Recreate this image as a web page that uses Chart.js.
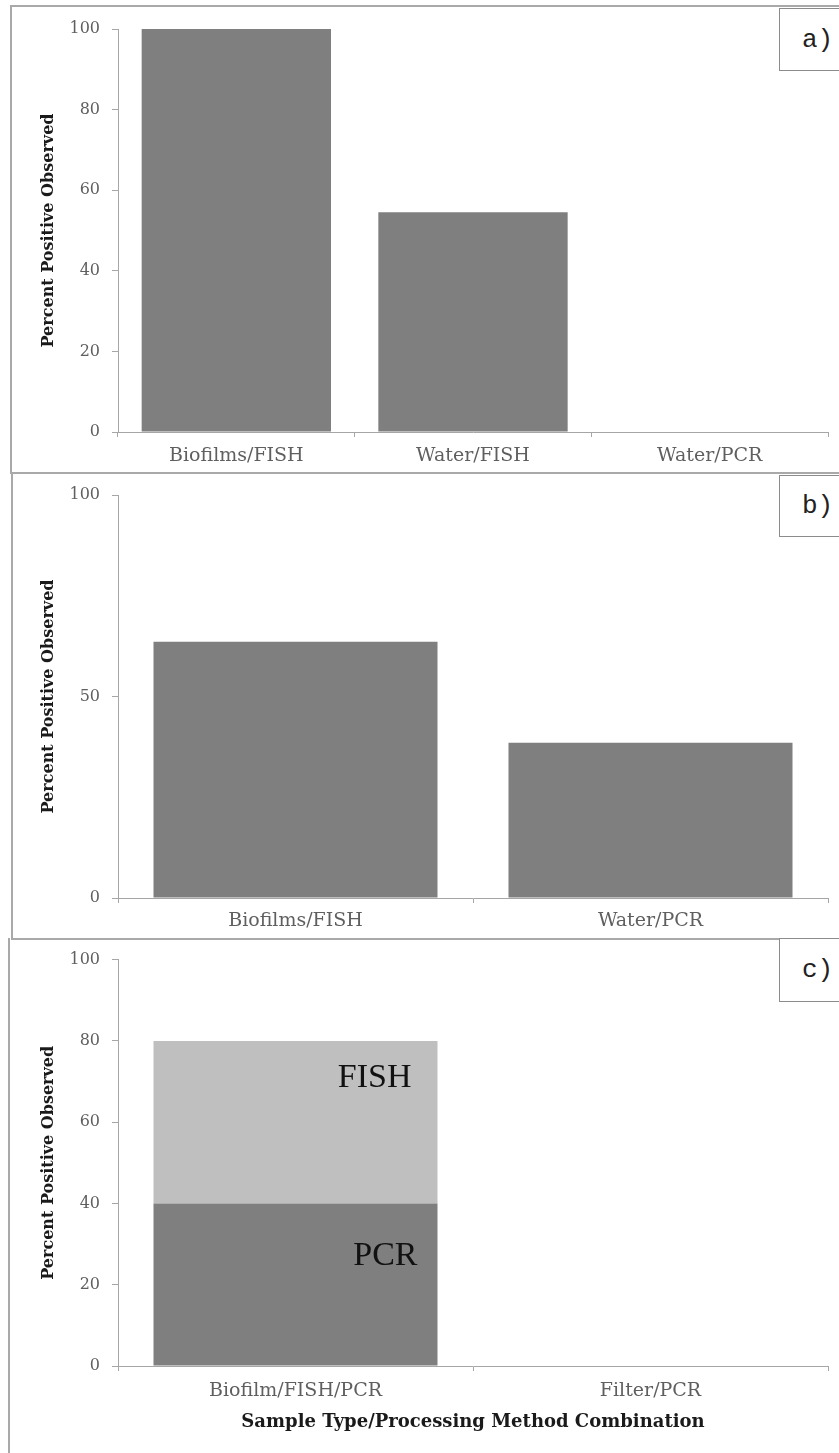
<!DOCTYPE html>
<html>
<head>
<meta charset="utf-8">
<script src="https://cdn.jsdelivr.net/npm/chart.js@4/dist/chart.umd.min.js"></script>
<style>
  html, body { margin: 0; padding: 0; background: #fff; }
  body { width: 839px; height: 1453px; position: relative; overflow: hidden; }
  .frame { position: absolute; border: 2px solid #a9a9a9; border-right: none; box-sizing: border-box; }
  canvas { position: absolute; left: 0; }
  .tag { position: absolute; left: 779px; width: 80px; background: #fff; border: 1px solid #8c8c8c;
         box-sizing: border-box; font-family: "Liberation Mono", monospace; font-size: 26px; color: #222;
         padding-left: 22px; display: flex; align-items: center; }
</style>
</head>
<body>
<div class="frame" style="left:10px; top:5px; width:840px; height:469px;"></div>
<div class="frame" style="left:11px; top:472px; width:840px; height:468px; border-top:none;"></div>
<div class="frame" style="left:8px; top:938px; width:840px; height:530px; border-top:none;"></div>

<canvas id="chartA" width="839" height="472" style="top:0px"></canvas>
<canvas id="chartB" width="839" height="466" style="top:472px"></canvas>
<canvas id="chartC" width="839" height="515" style="top:938px"></canvas>

<div class="tag" style="top:8px; height:63px;">a)</div>
<div class="tag" style="top:475px; height:62px;">b)</div>
<div class="tag" style="top:938px; height:64px;">c)</div>

<script>
// panel a
const categoriesA = ["Biofilms/FISH", "Water/FISH", "Water/PCR"];
const valuesA = [100, 54.5, 0];
const ticksA = [0, 20, 40, 60, 80, 100];

// panel b
const categoriesB = ["Biofilms/FISH", "Water/PCR"];
const valuesB = [63.6, 38.5];
const ticksB = [0, 50, 100];

// panel c (stacked)
const categoriesC = ["Biofilm/FISH/PCR", "Filter/PCR"];
const pcrC = [40, 0];
const fishC = [40, 0];
const ticksC = [0, 20, 40, 60, 80, 100];
const segmentLabelsC = ["PCR", "FISH"];

const yTitle = "Percent Positive Observed";
const xTitleC = "Sample Type/Processing Method Combination";

const serif = "DejaVu Serif";
const axisColor = "#a6a6a6";
const tickColor = "#5f5f5f";

// labels drawn inside the stacked bar of panel c
const segmentLabelPlugin = {
    id: "segmentLabels",
    afterDatasetsDraw(chart) {
        const ctx = chart.ctx;
        const insets = [20, 26];
        const drops = [53, 37];
        ctx.save();
        ctx.font = "34px 'Liberation Serif'";
        ctx.fillStyle = "#111";
        ctx.textAlign = "right";
        ctx.textBaseline = "middle";
        chart.data.datasets.forEach(function (ds, i) {
            const bar = chart.getDatasetMeta(i).data[0];
            ctx.fillText(segmentLabelsC[i], bar.x + bar.width / 2 - insets[i], bar.y + drops[i]);
        });
        ctx.restore();
    }
};

function makePanel(id, labels, datasets, ticks, o) {
    const canvas = document.getElementById(id);
    return new Chart(canvas, {
        type: "bar",
        data: { labels: labels, datasets: datasets },
        plugins: o.plugins || [],
        options: {
            responsive: false,
            animation: false,
            layout: { padding: { left: 29, right: 11, top: o.top, bottom: 0 } },
            plugins: { legend: { display: false }, tooltip: { enabled: false } },
            scales: {
                x: {
                    stacked: !!o.stacked,
                    grid: { drawOnChartArea: false, drawTicks: true, tickLength: 5, color: axisColor },
                    border: { color: axisColor },
                    ticks: { color: tickColor, padding: o.xPad, font: { family: serif, size: 19 } },
                    title: o.xTitle ? {
                        display: true, text: o.xTitle, color: "#1a1a1a",
                        font: { family: serif, size: 18, weight: "bold" },
                        padding: { top: 0, bottom: 20 }
                    } : { display: false },
                    afterFit(scale) { scale.height = o.xHeight; }
                },
                y: {
                    stacked: !!o.stacked,
                    min: 0,
                    max: 100,
                    grid: { drawOnChartArea: false, drawTicks: true, tickLength: 6, color: axisColor },
                    border: { color: axisColor },
                    ticks: { color: tickColor, padding: 12, font: { family: serif, size: 16 } },
                    afterBuildTicks(scale) { scale.ticks = ticks.map(v => ({ value: v })); },
                    title: {
                        display: true, text: yTitle, color: "#1a1a1a",
                        font: { family: serif, size: 16, weight: "bold" },
                        padding: { top: 10, bottom: 0 }
                    },
                    afterFit(scale) { scale.width = 89; }
                }
            }
        }
    });
}

makePanel("chartA", categoriesA, [{
    data: valuesA, backgroundColor: "#7f7f7f", categoryPercentage: 0.8, barPercentage: 1.0
}], ticksA, { top: 29, xHeight: 40, xPad: 8 });

makePanel("chartB", categoriesB, [{
    data: valuesB, backgroundColor: "#7f7f7f", categoryPercentage: 0.8, barPercentage: 1.0
}], ticksB, { top: 23, xHeight: 40, xPad: 7 });

makePanel("chartC", categoriesC, [
    { label: "PCR", data: pcrC, backgroundColor: "#7f7f7f", categoryPercentage: 0.8, barPercentage: 1.0 },
    { label: "FISH", data: fishC, backgroundColor: "#bfbfbf", categoryPercentage: 0.8, barPercentage: 1.0 }
], ticksC, { top: 21, xHeight: 87, xPad: 9, stacked: true, xTitle: xTitleC, plugins: [segmentLabelPlugin] });
</script>
</body>
</html>
